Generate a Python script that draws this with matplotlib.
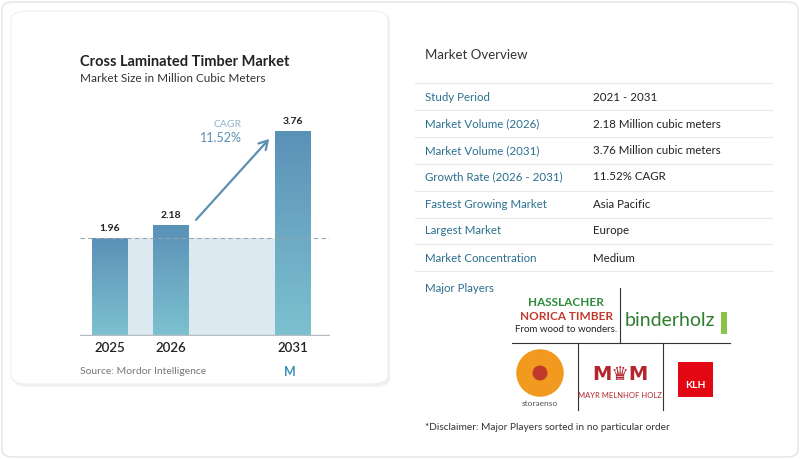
import matplotlib
matplotlib.use("Agg")
import matplotlib.pyplot as plt
import numpy as np
from matplotlib.patches import FancyBboxPatch, Rectangle, Circle
from matplotlib.colors import LinearSegmentedColormap

plt.rcParams['font.family'] = ['Lato', 'DejaVu Sans']

years = ["2025", "2026", "2031"]
values = [1.96, 2.18, 3.76]
positions = [0, 1, 3]
cagr = "11.52%"
ov_labels = ["Study Period", "Market Volume (2026)", "Market Volume (2031)",
             "Growth Rate (2026 - 2031)", "Fastest Growing Market", "Largest Market",
             "Market Concentration"]
ov_values = ["2021 - 2031", "2.18 Million cubic meters", "3.76 Million cubic meters",
             "11.52% CAGR", "Asia Pacific", "Europe", "Medium"]

W, H = 800, 459
fig = plt.figure(figsize=(8, 4.59), dpi=100)
fig.patch.set_facecolor("white")

def fx(x): return x / W
def fy(y): return 1 - y / H

def add(a, z=2):
    a.set_zorder(z)
    fig.add_artist(a)

add(FancyBboxPatch((fx(2), fy(457)), fx(796), 455 / H,
    boxstyle="round,pad=0,rounding_size=0.015", transform=fig.transFigure,
    fc="white", ec="#e2e4e8", lw=1), -5)
add(FancyBboxPatch((fx(13), fy(387)), fx(377), 375 / H,
    boxstyle="round,pad=0,rounding_size=0.02", transform=fig.transFigure,
    fc="#eef0f3", ec="none"), -4)
add(FancyBboxPatch((fx(11), fy(384)), fx(377), 373 / H,
    boxstyle="round,pad=0,rounding_size=0.02", transform=fig.transFigure,
    fc="white", ec="#eceef1", lw=0.8), -3)

fig.text(fx(80), fy(62), "Cross Laminated Timber Market", fontsize=10.5,
         fontweight="bold", color="#222222", va="center")
fig.text(fx(80), fy(78), "Market Size in Million Cubic Meters", fontsize=8.5,
         color="#333333", va="center")

ax = fig.add_axes([fx(80), fy(336), fx(250), 236 / H])
ax.set_zorder(1)
ax.patch.set_alpha(0)
x0 = (80 - 110) / 61
x1 = (330 - 110) / 61
ymin, ymax = 0.31, 4.28
ax.axis("off")
cmap = LinearSegmentedColormap.from_list("g", ["#7cc0cf", "#5a91b7"])
bw = 0.6
base = 0.33
ax.fill_between([positions[0], positions[2]], base, values[0], color="#dde9f1",
                lw=0, zorder=1)
nseg = 80
for p, v, yr in zip(positions, values, years):
    edges = np.linspace(base, v, nseg + 1)
    for k in range(nseg):
        ax.bar(p, edges[k + 1] - edges[k] + 0.003, bottom=edges[k], width=bw,
               color=cmap(k / (nseg - 1)), lw=0, zorder=2)
    ax.text(p, v + 0.08, f"{v:.2f}", ha="center", va="bottom", fontsize=7.5,
            fontweight="bold", color="#222222")
    ax.text(p, base - 0.12, yr, ha="center", va="top", fontsize=9.5,
            fontweight="semibold", color="#222222", clip_on=False)
ax.set_xlim(x0, x1)
ax.set_ylim(ymin, ymax)
ax.axhline(values[0], color="#9aa5ae", lw=0.8, ls=(0, (4, 3)), zorder=3)
ax.axhline(base, color="#b5bcc2", lw=1.0, zorder=3)
ax.annotate("", xy=(positions[2] - 0.36, values[2] - 0.1),
            xytext=(positions[1] + 0.38, values[1] + 0.05),
            arrowprops=dict(arrowstyle="->,head_length=0.6,head_width=0.35",
                            color="#5c8fb0", lw=1.6), zorder=4)
fig.text(fx(241), fy(124), "CAGR", fontsize=7.5, color="#8fb3c8", ha="right", va="center")
fig.text(fx(242), fy(138), cagr, fontsize=9, color="#5c8fb0", ha="right", va="center")

fig.text(fx(80), fy(372), "Source: Mordor Intelligence", fontsize=7.5,
         color="#777777", va="center")
fig.text(fx(290), fy(372), "M", fontsize=9, color="#3a8fb7", ha="center",
         va="center", fontweight="bold")

fig.text(fx(425), fy(55), "Market Overview", fontsize=9.5, color="#333333", va="center")
row_y = [97, 124, 151, 177, 204, 231, 258]
for i, (lab, val) in enumerate(zip(ov_labels, ov_values)):
    y = row_y[i]
    fig.text(fx(425), fy(y), lab, fontsize=8.3, color="#2b6f8e", va="center")
    fig.text(fx(593), fy(y), val, fontsize=8.3, color="#222222", va="center")
for y in [83, 110, 137, 164, 191, 218, 244, 271]:
    add(plt.Line2D([fx(415), fx(772)], [fy(y), fy(y)],
                   transform=fig.transFigure, color="#e6e8eb", lw=0.8))
fig.text(fx(425), fy(289), "Major Players", fontsize=8.3, color="#2b6f8e", va="center")

fig.text(fx(566), fy(303), "HASSLACHER", fontsize=8.5, fontweight="bold",
         color="#2e8b3a", ha="center", va="center")
fig.text(fx(566), fy(316), "NORICA TIMBER", fontsize=8.5, fontweight="bold",
         color="#c0392b", ha="center", va="center")
fig.text(fx(566), fy(330), "From wood to wonders.", fontsize=7, color="#222222",
         ha="center", va="center")
fig.text(fx(670), fy(320), "binderholz", fontsize=14, color="#2f7d2f",
         ha="center", va="center")
add(Rectangle((fx(721), fy(334)), fx(6), 22 / H, transform=fig.transFigure,
              fc="#8bc34a", ec="none"))
add(plt.Line2D([fx(620), fx(620)], [fy(288), fy(343)], transform=fig.transFigure,
               color="#333333", lw=0.8))
add(plt.Line2D([fx(512), fx(730)], [fy(343), fy(343)], transform=fig.transFigure,
               color="#333333", lw=0.8))
add(plt.Line2D([fx(578), fx(578)], [fy(343), fy(410)], transform=fig.transFigure,
               color="#333333", lw=0.8))
add(plt.Line2D([fx(663), fx(663)], [fy(343), fy(410)], transform=fig.transFigure,
               color="#333333", lw=0.8))
sax = fig.add_axes([fx(515), fy(398), fx(50), 50 / H])
sax.set_zorder(2)
sax.axis("off")
sax.set_xlim(-1, 1); sax.set_ylim(-1, 1); sax.set_aspect("equal")
sax.add_patch(Circle((0, 0), 0.95, fc="#f29a1f", ec="none"))
sax.add_patch(Circle((0, 0), 0.3, fc="#c0392b", ec="none"))
fig.text(fx(540), fy(404), "storaenso", fontsize=6, color="#555555", ha="center", va="center")
fig.text(fx(620), fy(374), "M♛M", fontsize=14, color="#b3262e", ha="center",
         va="center", fontweight="bold", family=["DejaVu Sans"])
fig.text(fx(620), fy(395), "MAYR MELNHOF HOLZ", fontsize=5.5, color="#b3262e",
         ha="center", va="center")
add(Rectangle((fx(678), fy(397)), fx(35), 35 / H, transform=fig.transFigure,
              fc="#e30613", ec="none"))
fig.text(fx(695), fy(385), "KLH", fontsize=7.5, color="white", fontweight="bold",
         ha="center", va="center", zorder=5)

fig.text(fx(425), fy(428), "*Disclaimer: Major Players sorted in no particular order",
         fontsize=7.3, color="#333333", va="center")

fig.savefig("out.png", dpi=100, facecolor="white")
